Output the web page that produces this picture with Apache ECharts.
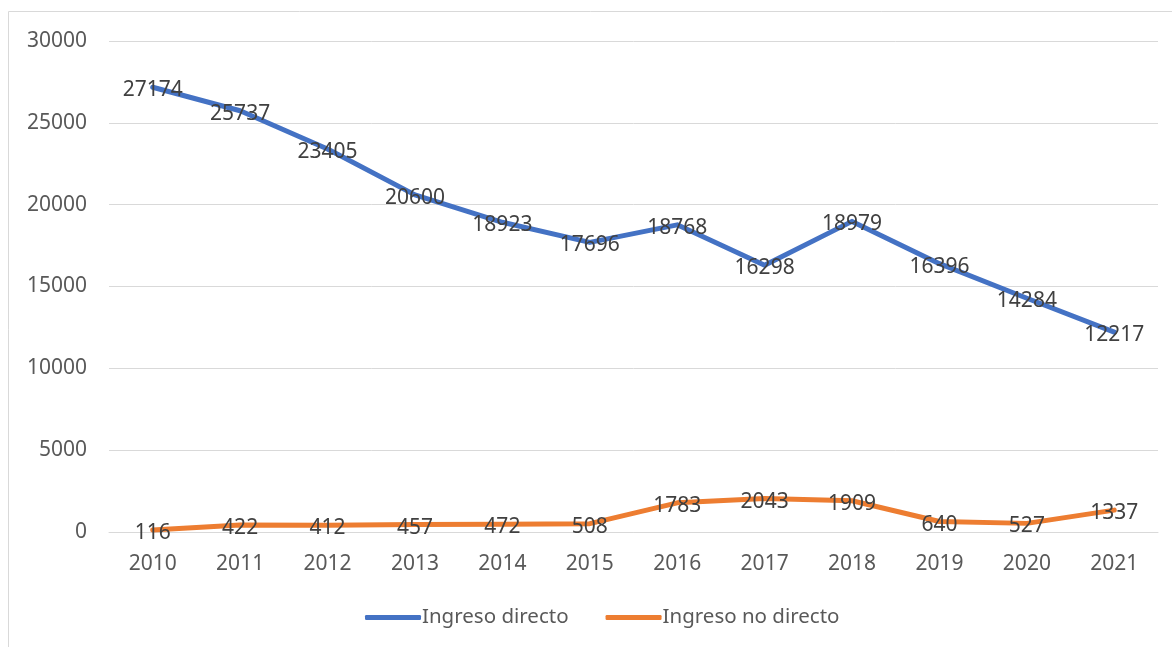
<!DOCTYPE html>
<html>
<head>
<meta charset="UTF-8">
<title>Ingreso</title>
<script src="https://cdn.jsdelivr.net/npm/echarts@6/dist/echarts.min.js"></script>
</head>
<body style="margin:0;background:#fff">
<div id="chart" style="width:1172px;height:647px;"></div>
<script>
// datos
var years = ['2010','2011','2012','2013','2014','2015','2016','2017','2018','2019','2020','2021'];
var directo = [27174, 25737, 23405, 20600, 18923, 17696, 18768, 16298, 18979, 16396, 14284, 12217];
var noDirecto = [116, 422, 412, 457, 472, 508, 1783, 2043, 1909, 640, 527, 1337];

var chart = echarts.init(document.getElementById('chart'));
var font = 'Noto Sans, sans-serif';

function serie(name, data, color) {
  return {
    name: name,
    type: 'line',
    data: data,
    symbol: 'circle',
    symbolSize: 0.1,
    itemStyle: { color: color },
    lineStyle: { width: 5, color: color, cap: 'round', join: 'round' },
    label: {
      show: true,
      position: 'inside',
      offset: [0, 3],
      color: '#404040',
      fontSize: 21,
      fontFamily: font
    },
    emphasis: { disabled: true }
  };
}

var option = {
  animation: false,
  graphic: [{
    type: 'rect',
    shape: { x: 8.5, y: 11.5, width: 1200, height: 700 },
    style: { fill: 'none', stroke: '#d9d9d9', lineWidth: 1 },
    z: -1
  }],
  grid: { left: 109, right: 14, top: 41, bottom: 115 },
  legend: {
    bottom: 14,
    left: 360,
    itemWidth: 56,
    itemHeight: 5,
    itemGap: 37,
    textStyle: { color: '#595959', fontSize: 20.5, fontFamily: font, padding: [0, 0, 0, -4] },
    data: [
      { name: 'Ingreso directo', icon: 'roundRect' },
      { name: 'Ingreso no directo', icon: 'roundRect' }
    ]
  },
  xAxis: {
    type: 'category',
    data: years,
    boundaryGap: true,
    axisLine: { lineStyle: { color: '#d9d9d9', width: 1 } },
    axisTick: { show: false },
    axisLabel: { color: '#595959', fontSize: 21, fontFamily: font, margin: 22 }
  },
  yAxis: {
    type: 'value',
    min: 0,
    max: 30000,
    interval: 5000,
    axisLine: { show: false },
    axisTick: { show: false },
    axisLabel: {
      color: '#595959', fontSize: 21, fontFamily: font, margin: 22,
      formatter: function (v) { return String(v); }
    },
    splitLine: { lineStyle: { color: '#d9d9d9', width: 1 } }
  },
  series: [
    serie('Ingreso directo', directo, '#4472C4'),
    serie('Ingreso no directo', noDirecto, '#ED7D31')
  ]
};
chart.setOption(option);
</script>
</body>
</html>
